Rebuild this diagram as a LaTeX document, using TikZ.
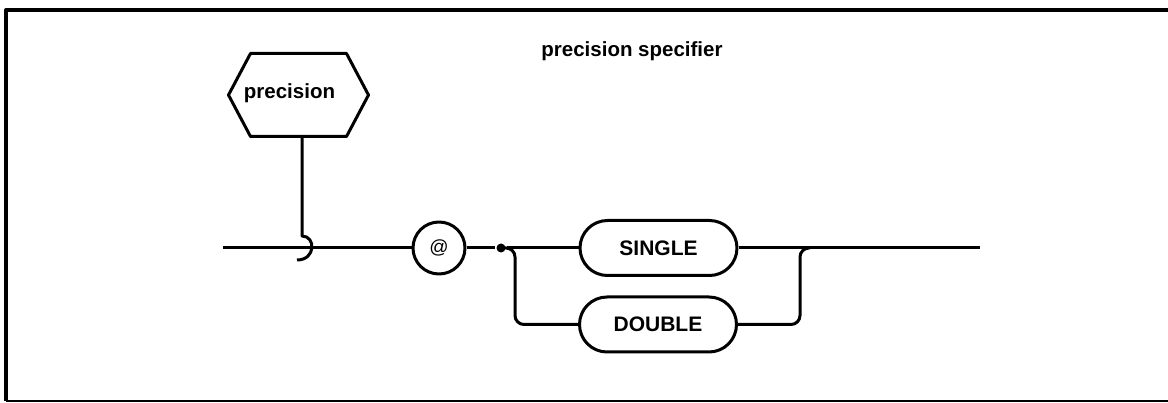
\documentclass[tikz,border=0pt]{standalone}
\usepackage{fontspec}
\setmainfont{Liberation Sans}
\usetikzlibrary{shapes.misc}
\begin{document}
\begin{tikzpicture}[x=1pt,y=-1pt,
  line width=3pt, line join=round,
  txt/.style={font=\fontsize{20.5}{24}\bfseries\selectfont, inner sep=0pt},
  kw/.style={draw, rounded rectangle, minimum width=157pt, minimum height=55pt,
    inner sep=0pt, font=\fontsize{21}{24}\bfseries\selectfont},
  wire/.style={line width=3pt, rounded corners=9pt}]
\useasboundingbox (0,0) rectangle (1168,403);
% frame
\draw[line width=4pt] (1168,10) -- (6,10) -- (6,401);
\draw[line width=1.5pt] (6,401) -- (1168,401);
% title
\node[txt, anchor=base] (title) at (632,57) {precision specifier};
% hexagon
\node[minimum width=137pt, minimum height=80pt, inner sep=0pt,
  label={[txt, xshift=-9pt, yshift=2pt]center:precision}] (prec) at (298.5,95) {};
\draw (prec.west) -- ([xshift=22pt]prec.north west) -- ([xshift=-22pt]prec.north east)
  -- (prec.east) -- ([xshift=-22pt]prec.south east) -- ([xshift=22pt]prec.south west) -- cycle;
% main line
\coordinate (start) at (223,248);
\coordinate (hook) at (302,236);
\node[draw, circle, minimum size=52pt, inner sep=0pt,
  font=\fontsize{19}{22}\selectfont] (at) at (439,248) {@};
\node[circle, fill, inner sep=0pt, minimum size=9pt] (dot) at (501,248) {};
\node[kw] (single) at (658.5,248) {SINGLE};
\node[kw] (double) at (658,324.5) {DOUBLE};
\coordinate (bl) at (515,248);
\coordinate (br) at (800,248);
\coordinate (end) at (980,248);
% stem with hook
\draw ([xshift=3.5pt]prec.south) -- (hook) .. controls (316,236) and (316,260) .. (297,260);
\draw (start) -- (at.west);
\draw (at.east) -- (dot) -- (single.west);
\draw (single.east) -- (end);
\draw[wire] (dot.center) -- (bl) -- (bl |- double.west) -- (double.west);
\draw[wire] (double.east) -- (br |- double.east) -- (br) -- ([xshift=10pt]br);
\end{tikzpicture}
\end{document}
